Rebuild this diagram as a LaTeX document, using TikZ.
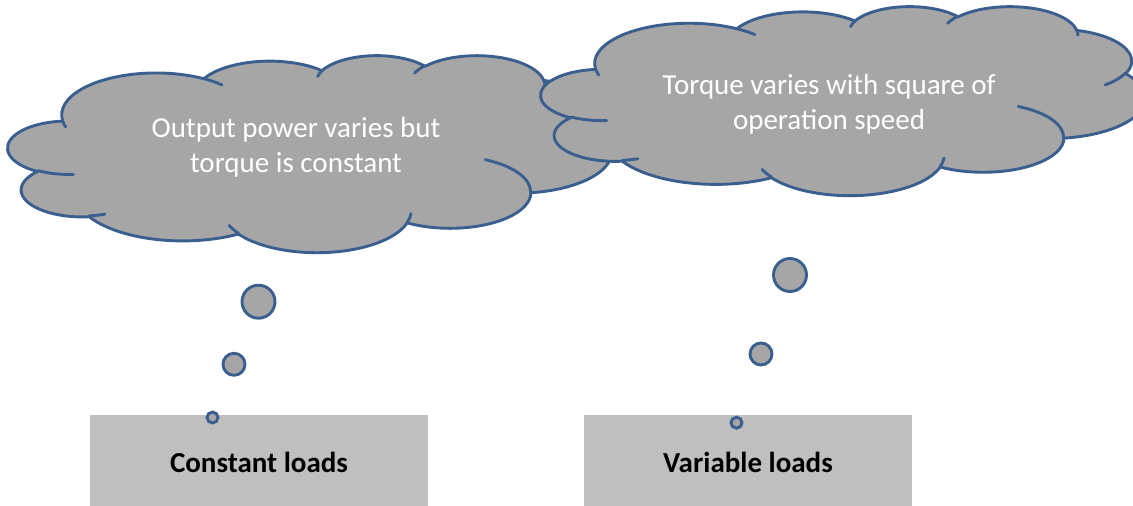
\documentclass[tikz,border=0pt]{standalone}
\usepackage{fontspec}
\setmainfont{Carlito}
\definecolor{cloudfill}{HTML}{A6A6A6}
\definecolor{cloudline}{HTML}{3A5F8F}
\definecolor{boxfill}{HTML}{BFBFBF}
\tikzset{
  cloudpath/.style={fill=cloudfill, draw=cloudline, line width=2.9pt, line join=round},
  cloudinner/.style={draw=cloudline, line width=2.9pt, line cap=round},
  cloudtext/.style={text=white, font=\fontsize{29}{35}\selectfont, align=center, inner sep=0pt},
  loadbox/.style={fill=boxfill, draw=none, inner sep=0pt, font=\fontsize{29}{35}\selectfont\bfseries},
  bubble/.style={circle, fill=cloudfill, draw=cloudline, line width=2.9pt, inner sep=0pt},
}
\newcommand\carc[4]{arc[x radius=#1, y radius=#2, start angle={atan2(#1*sin(#3),#2*cos(#3))}, delta angle={mod(atan2(#1*sin(#3+#4),#2*cos(#3+#4))-atan2(#1*sin(#3),#2*cos(#3))+720,360)}]}
\newcommand\officecloud[4]{%
\begin{scope}[shift={(#1,#2)}, xscale=#3/432, yscale=#4/432]
\filldraw[cloudpath] (39,143.7)
  \carc{67.53}{91.90}{-190.4875}{123.7805}
  \carc{53.33}{72.67}{-144.1024}{89.9452}
  \carc{43.65}{59.45}{-145.8079}{99.7230}
  \carc{48.57}{65.95}{-130.9861}{117.2417}
  \carc{53.33}{72.73}{-78.7089}{109.0269}
  \carc{67.75}{92.20}{-46.2673}{130.2690}
  \carc{57.85}{78.67}{0.6250}{114.0333}
  \carc{67.52}{92.15}{22.4516}{115.1726}
  \carc{77.20}{105.43}{66.2426}{75.7110}
  \carc{43.60}{59.18}{-274.9421}{146.7356}
  \carc{43.45}{59.45}{-246.8285}{152.5189}
  -- cycle;
\draw[cloudinner]
  (46.93,261.77) \carc{43.45}{59.45}{86.7420}{26.4295}
  (69.28,348.99) \carc{43.60}{59.18}{73.6105}{11.4475}
  (164.78,390.90) \carc{67.52}{92.15}{137.6242}{14.0811}
  (288.27,347.51) \carc{67.52}{92.15}{6.4533}{15.9984}
  (341.29,229.54) \carc{57.85}{78.67}{-70.2924}{70.9174}
  (417.98,153.54) \carc{53.33}{72.73}{30.3180}{27.7515}
  (383.24,54.26) \carc{48.57}{65.95}{-13.7443}{14.8589}
  (290.78,39.52) \carc{48.57}{65.95}{-149.1815}{18.1954}
  (221.41,47.20) \carc{43.65}{59.45}{-163.4943}{17.6864}
  (140.00,51.92) \carc{67.53}{91.90}{-66.7070}{12.3194}
  (41.27,157.89) \carc{67.53}{91.90}{157.6544}{11.8582};
\end{scope}}
\begin{document}
\begin{tikzpicture}[x=1pt, y=-1pt]
\useasboundingbox (0,0) rectangle (1133,506);
\clip (0,0) rectangle (1133,506);
% clouds
\officecloud{8}{55}{604}{197}
\officecloud{541}{6}{604}{189}
\node[cloudtext] (t1) at (296,147) {Output power varies but\\torque is constant};
\node[cloudtext] (t2) at (829,104) {Torque varies with square of\\operation speed};
% load boxes
\node[loadbox, minimum width=338pt, minimum height=95pt] (b1) at (259,462.5) {Constant loads};
\node[loadbox, minimum width=328pt, minimum height=95pt] (b2) at (748,462.5) {Variable loads};
% thought bubbles
\node[bubble, minimum size=33pt] (l1) at (258.5,301.7) {};
\node[bubble, minimum size=22pt] (l2) at (234,364.3) {};
\node[bubble, minimum size=11pt] (l3) at (212.5,417.5) {};
\node[bubble, minimum size=33pt] (r1) at (790,275) {};
\node[bubble, minimum size=22pt] (r2) at (761,354) {};
\node[bubble, minimum size=11pt] (r3) at (736.5,422.7) {};
\end{tikzpicture}
\end{document}
